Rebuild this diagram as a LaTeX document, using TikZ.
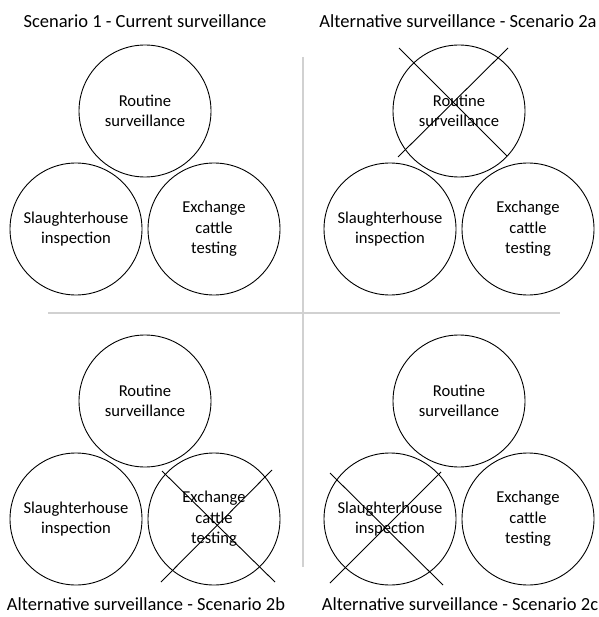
\documentclass[tikz,border=0pt]{standalone}
\usepackage{fontspec}
\setmainfont{Carlito}
\usepackage{tikz}
\usetikzlibrary{calc}

\newcommand{\disclabel}{\fontsize{16.6}{20.5}\selectfont}
\newcommand{\paneltitle}{\fontsize{18.5}{22}\selectfont}

\begin{document}
\begin{tikzpicture}[
	x=1pt, y=-1pt,
	disc/.style={
		draw, circle, minimum size=132pt, inner sep=0pt,
		line width=.9pt, align=center, font=\disclabel
	},
	heading/.style={font=\paneltitle, inner sep=0pt},
	strike/.style={line width=.9pt},
	divider/.style={draw=black!18, line width=1.8pt}
]
\useasboundingbox (0,0) rectangle (598,617);

% three surveillance components per panel
\foreach \p/\dx/\dy in {a/0/0, b/314/0, c/0/290, d/314/290} {
	\node[disc] (\p-rs) at (145+\dx,111+\dy) {Routine\\surveillance};
	\node[disc] (\p-sh) at (76+\dx,229+\dy) {Slaughterhouse\\inspection};
	\node[disc] (\p-ec) at (214+\dx,229+\dy) {Exchange\\cattle\\testing};
}

\node[heading] (t-a) at (145,21) {Scenario 1 - Current surveillance};
\node[heading] (t-b) at (458,21) {Alternative surveillance - Scenario 2a};
\node[heading] (t-c) at (146,604) {Alternative surveillance - Scenario 2b};
\node[heading] (t-d) at (460,604) {Alternative surveillance - Scenario 2c};

% panel dividers
\draw[divider] (303,57) -- (303,567);
\draw[divider] (48,313) -- (560,313);

% components dropped in the alternatives
\draw[strike] ($(b-rs)+(-60,-63)$) -- ($(b-rs)+(48,45)$);
\draw[strike] ($(b-rs)+(49,-63)$) -- ($(b-rs)+(-61,46)$);
\draw[strike] ($(c-ec)+(-52,-48)$) -- ($(c-ec)+(61,63)$);
\draw[strike] ($(c-ec)+(58,-49)$) -- ($(c-ec)+(-53,63)$);
\draw[strike] ($(d-sh)+(-60,-46)$) -- ($(d-sh)+(53,66)$);
\draw[strike] ($(d-sh)+(51,-47)$) -- ($(d-sh)+(-60,64)$);
\end{tikzpicture}
\end{document}
